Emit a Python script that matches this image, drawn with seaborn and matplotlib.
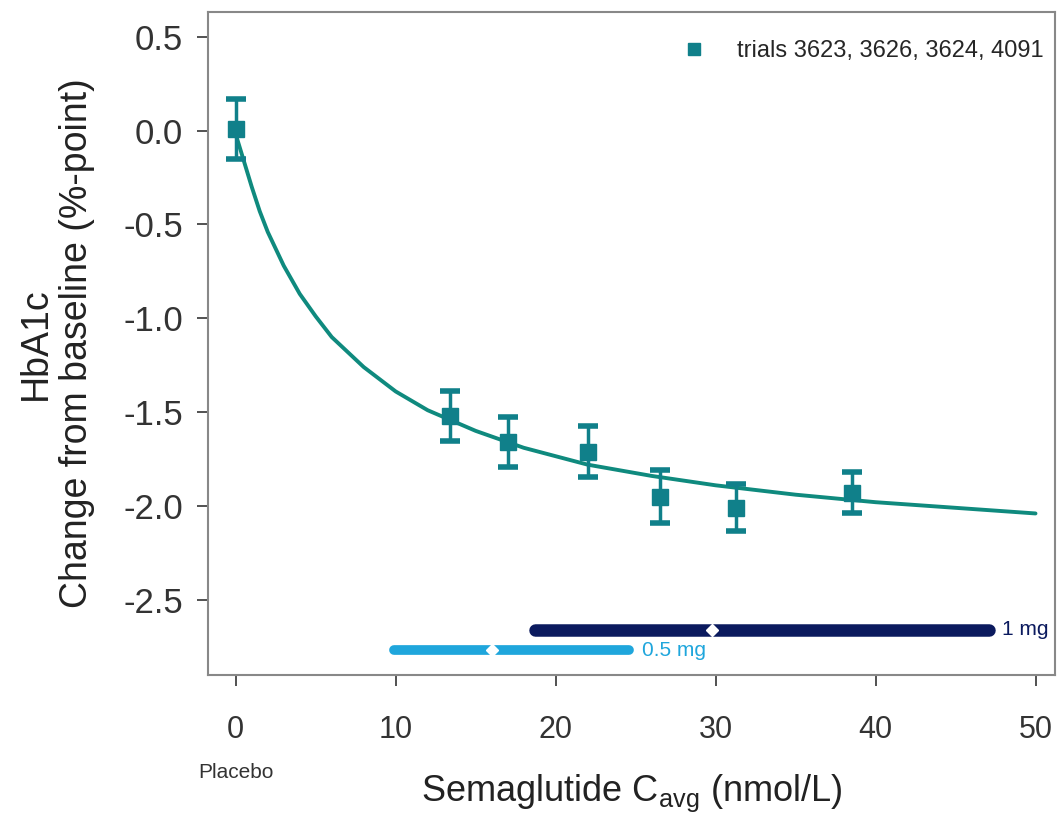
import numpy as np
import pandas as pd
import seaborn as sns
import matplotlib
matplotlib.use("Agg")
import matplotlib.pyplot as plt
from matplotlib.lines import Line2D

cavg_obs = [0.0, 13.4, 17.0, 22.0, 26.5, 31.3, 38.5]
hba1c_obs = [0.01, -1.52, -1.66, -1.71, -1.95, -2.01, -1.93]
hba1c_err = [0.16, 0.135, 0.135, 0.135, 0.14, 0.125, 0.11]

# model curve
cavg_fit = [0, 0.5, 1, 1.5, 2, 3, 4, 5, 6, 8, 10, 12, 15, 18, 22, 26, 30, 35, 40, 45, 50]
hba1c_fit = [-0.02, -0.16, -0.30, -0.43, -0.54, -0.72, -0.87, -0.99, -1.10, -1.26,
             -1.39, -1.49, -1.60, -1.69, -1.78, -1.84, -1.89, -1.94, -1.98, -2.01, -2.04]

# exposure ranges per dose
dose_labels = ["1 mg", "0.5 mg"]
dose_lo = [18.7, 9.9]
dose_hi = [47.1, 24.6]
dose_mid = [29.8, 16.0]
dose_y = [-2.66, -2.77]
dose_colors = ["#0b1a5e", "#1fa6dc"]

teal = "#0f8a7e"
marker_col = "#10808a"

sns.set_style("ticks")
plt.rcParams["font.family"] = ["Liberation Sans", "DejaVu Sans"]

fig = plt.figure(figsize=(10.6, 8.23), dpi=100)
ax = fig.add_axes([0.196, 0.18, 0.799, 0.805])

df_fit = pd.DataFrame({"cavg": cavg_fit, "hba1c": hba1c_fit})
sns.lineplot(data=df_fit, x="cavg", y="hba1c", ax=ax, color=teal, linewidth=2.8)

ax.errorbar(cavg_obs, hba1c_obs, yerr=hba1c_err, fmt="s", color=marker_col,
            ms=11, elinewidth=2.5, capsize=7, capthick=4, zorder=4)

for lab, lo, hi, mid, yy, c in zip(dose_labels, dose_lo, dose_hi, dose_mid, dose_y, dose_colors):
    ax.plot([lo, hi], [yy, yy], color=c, lw=9 if lab == "1 mg" else 7,
            solid_capstyle="round", zorder=3)
    ax.plot([mid], [yy], marker="D", color="white", ms=6, zorder=4)
    ax.text(hi + 0.8, yy, lab, color=c, fontsize=15, va="center", ha="left")

ax.set_xlim(-1.75, 51.2)
ax.set_ylim(-2.9, 0.63)
ax.set_xticks([0, 10, 20, 30, 40, 50])
ax.set_yticks([0.5, 0.0, -0.5, -1.0, -1.5, -2.0, -2.5])
ax.set_yticklabels(["0.5", "0.0", "-0.5", "-1.0", "-1.5", "-2.0", "-2.5"])
ax.tick_params(axis="both", colors="#333333", length=8, width=1.2)
ax.tick_params(axis="y", labelsize=25, pad=10)
ax.tick_params(axis="x", labelsize=22, pad=21)
for s in ax.spines.values():
    s.set_color("#888888")
    s.set_linewidth(1.5)

ax.set_xlabel("Semaglutide C$_{\\mathregular{avg}}$ (nmol/L)", fontsize=26, color="#222222", labelpad=20)
ax.set_ylabel("HbA1c\nChange from baseline (%-point)", fontsize=27, color="#222222", labelpad=20)
ax.text(0, -0.148, "Placebo", transform=ax.get_xaxis_transform(), fontsize=15,
        ha="center", va="center", color="#333333")

handle = Line2D([], [], marker="s", ls="none", color=marker_col, ms=9)
ax.legend([handle], ["trials 3623, 3626, 3624, 4091"], loc="upper right", frameon=False,
          fontsize=17, handletextpad=0.8, bbox_to_anchor=(1.012, 0.99))

fig.savefig("out.png", dpi=100)
